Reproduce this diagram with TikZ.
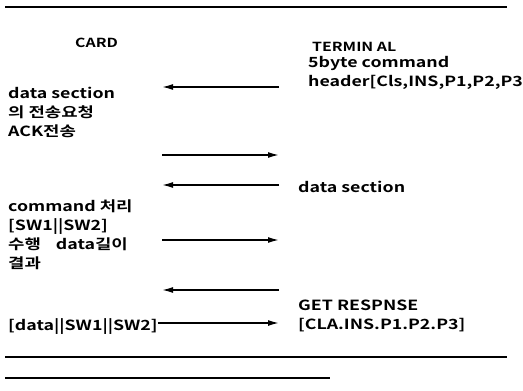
\documentclass[tikz,border=0pt]{standalone}
\usepackage{fontspec}
\setmainfont{Noto Sans CJK KR}[BoldFont={Noto Sans CJK KR Bold},FakeStretch=1.27]
\usetikzlibrary{arrows.meta}
\begin{document}
\begin{tikzpicture}[x=1pt,y=-1pt,
  txt/.style={inner sep=0pt,anchor=north west,align=left,font=\bfseries\fontsize{14}{19}\selectfont},
  head/.style={txt,font=\bfseries\fontsize{12.5}{14}\selectfont},
  rule/.style={line width=1.5pt},
  msg/.style={line width=1.5pt,-{Latex[length=11pt,width=6pt]}}]
\useasboundingbox (0,0) rectangle (523,391);
% rules
\coordinate (t1) at (5,7); \coordinate (t2) at (507,7);
\coordinate (b1) at (5,357); \coordinate (b2) at (507,357);
\coordinate (c1) at (5,378); \coordinate (c2) at (330,378);
\draw[rule] (t1) -- (t2);
\draw[rule] (b1) -- (b2);
\draw[rule] (c1) -- (c2);
% headers
\node[head] (card) at (75,38) {CARD};
\node[head] (term) at (312,42) {TERMIN AL};
% texts
\node[txt] (tcmd) at (308,56) {5byte command\\header[Cls,INS,P1,P2,P3};
\node[txt] (cds) at (8,87) {data section\\의 전송요청\\ACK전송};
\node[txt] (tds) at (298,181) {data section};
\node[txt] (ccmd) at (8,200) {command 처리\\{}[SW1||SW2]\\수행\hspace{15pt}data길이\\결과};
\node[txt] (tget) at (298,300) {GET RESPNSE\\{}[CLA.INS.P1.P2.P3]};
\node[txt] (cdata) at (8,318) {{}[data||SW1||SW2]};
% arrow endpoints
\coordinate (a1s) at (279,87);  \coordinate (a1e) at (162,87);
\coordinate (a2s) at (162,155); \coordinate (a2e) at (279,155);
\coordinate (a3s) at (279,185); \coordinate (a3e) at (162,185);
\coordinate (a4s) at (162,240); \coordinate (a4e) at (279,240);
\coordinate (a5s) at (279,290); \coordinate (a5e) at (162,290);
\coordinate (a6e) at (279,323);
\draw[msg] (a1s) -- (a1e);
\draw[msg] (a2s) -- (a2e);
\draw[msg] (a3s) -- (a3e);
\draw[msg] (a4s) -- (a4e);
\draw[msg] (a5s) -- (a5e);
\draw[msg] (cdata.east |- a6e) -- (a6e);
\end{tikzpicture}
\end{document}
